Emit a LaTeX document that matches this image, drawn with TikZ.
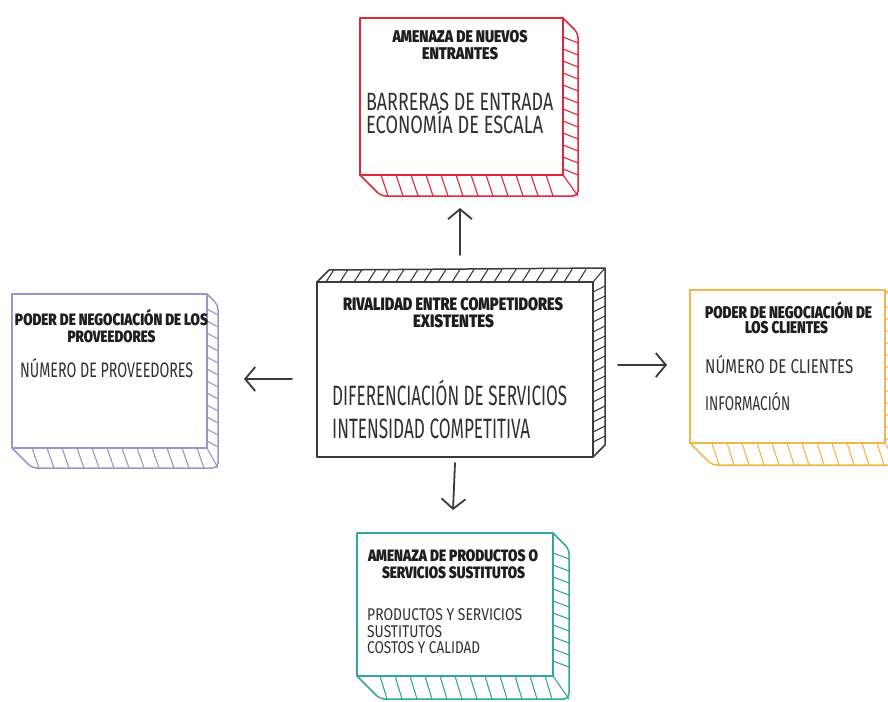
\documentclass[tikz,border=0pt]{standalone}
\usepackage{fontspec}
\setmainfont{Fira Sans}
\IfFontExistsTF{Fira Sans Black}
  {\newfontfamily\headfont{Fira Sans Black}}
  {\newfontfamily\headfont{Fira Sans}[UprightFont=* Bold, FakeBold=1.5]}
\IfFontExistsTF{Fira Sans Book}
  {\newfontfamily\bodyfont{Fira Sans Book}}
  {\newfontfamily\bodyfont{Fira Sans}}
\usetikzlibrary{arrows.meta}

\definecolor{inkdark}{HTML}{3A3A3A}
\definecolor{txtdark}{HTML}{1E1E1E}
\definecolor{txtbody}{HTML}{303030}
\definecolor{boxred}{HTML}{E2263A}
\definecolor{boxpurple}{HTML}{A292CC}
\definecolor{boxorange}{HTML}{F4B548}
\definecolor{boxteal}{HTML}{2FA79E}

% one line of condensed text: target width (pt), font size (pt), text
\newcommand{\fitline}[3]{\resizebox{#1pt}{\height}{\fontsize{#2}{#2}\selectfont #3}}

% sketched box with a hatched edge to the right and below
% #1 colour, #2 x1, #3 y1, #4 x2, #5 y2, #6 right depth, #7 bottom depth
\newcommand{\hatchbox}[7]{%
  \draw[boxline,#1] (#2,#3) rectangle (#4,#5);
  \draw[boxline,#1,rounded corners=5pt] (#4,#3) -- (#4+#6,#3+#6) -- (#4+#6,#5+#7) -- (#2+#7,#5+#7) -- (#2,#5);
  \draw[hatch,#1] (#4,#5) -- (#4+#6,#5+#7);
  \pgfmathtruncatemacro{\nb}{(#4-#2-#7-8)/15}
  \foreach \i in {0,...,\nb}{
    \pgfmathsetmacro{\tx}{#2+#7+\i*15}
    \draw[hatch,#1] (\tx,#5) -- (\tx+7,#5+#7);
  }
  \pgfmathtruncatemacro{\nr}{(#5-#3-#6-8)/12}
  \foreach \i in {0,...,\nr}{
    \pgfmathsetmacro{\ty}{#3+#6+4+\i*12}
    \draw[hatch,#1] (#4,\ty) -- (#4+#6,\ty+6);
  }
}

\tikzset{
  boxline/.style={line width=1.5pt, line join=round, line cap=round},
  hatch/.style={line width=1.1pt, line cap=round},
  txt/.style={inner sep=0pt, text=txtdark},
  head/.style={txt, anchor=base, font=\headfont},
  body/.style={txt, anchor=base west, text=txtbody, font=\bodyfont},
  force/.style={line width=1.8pt, draw=inkdark, line cap=round,
    -{Straight Barb[length=10pt,width=24pt,line width=1.8pt]}}
}

\begin{document}
\begin{tikzpicture}[x=1pt,y=-1pt]
\path[use as bounding box] (0,0) rectangle (888,701);
\clip (0,0) rectangle (888,701);

% the five forces boxes
\hatchbox{boxred}{360}{18}{563}{175}{15}{21}
\hatchbox{boxpurple}{12}{294}{207}{448}{11}{20}
\hatchbox{boxorange}{690}{290}{885}{443}{12}{22}
\hatchbox{boxteal}{357}{533}{553}{676}{16}{23}

% central box, extruded up and to the right
\draw[boxline,inkdark] (317,282) rectangle (593,457);
\draw[boxline,inkdark] (317,282) -- (329,270) -- (605,268) -- (605,445) -- (593,457);
\draw[hatch,inkdark] (605,268) -- (593,282);
\foreach \tx in {326,340,...,590}
  \draw[hatch,inkdark] (\tx,282) -- (\tx+8,269.5);
\foreach \ty in {292,302,...,446}
  \draw[hatch,inkdark] (593,\ty) -- (605,\ty-6);

% top box texts
\node[head] (t1) at (460,42) {\fitline{135}{17}{AMENAZA DE NUEVOS}};
\node[head] (t2) at (460,59.5) {\fitline{76}{17}{ENTRANTES}};
\node[body] (t3) at (366,110) {\fitline{187}{25}{BARRERAS DE ENTRADA}};
\node[body] (t4) at (366,133) {\fitline{177}{25}{ECONOMÍA DE ESCALA}};

% left box texts
\node[head] (l1) at (111.5,325) {\fitline{193}{16.5}{PODER DE NEGOCIACIÓN DE LOS}};
\node[head] (l2) at (111.5,342) {\fitline{88}{16.5}{PROVEEDORES}};
\node[body] (l3) at (20,377) {\fitline{173}{21}{NÚMERO DE PROVEEDORES}};

% central box texts
\node[head] (c1) at (453,310) {\fitline{220}{18}{RIVALIDAD ENTRE COMPETIDORES}};
\node[head] (c2) at (453.5,327) {\fitline{81}{18}{EXISTENTES}};
\node[body] (c3) at (332,405) {\fitline{235}{28}{DIFERENCIACIÓN DE SERVICIOS}};
\node[body] (c4) at (332,438) {\fitline{198}{28}{INTENSIDAD COMPETITIVA}};

% right box texts
\node[head] (r1) at (788.5,318) {\fitline{167}{17}{PODER DE NEGOCIACIÓN DE}};
\node[head] (r2) at (786.5,333.5) {\fitline{83}{17}{LOS CLIENTES}};
\node[body] (r3) at (705,373) {\fitline{148}{20}{NÚMERO DE CLIENTES}};
\node[body] (r4) at (705,410) {\fitline{85}{20}{INFORMACIÓN}};

% bottom box texts
\node[head] (b1) at (453,561) {\fitline{170}{16.5}{AMENAZA DE PRODUCTOS O}};
\node[head] (b2) at (453.5,578) {\fitline{143}{16.5}{SERVICIOS SUSTITUTOS}};
\node[body] (b3) at (367,620) {\fitline{155}{17}{PRODUCTOS Y SERVICIOS}};
\node[body] (b4) at (367,637) {\fitline{75}{17}{SUSTITUTOS}};
\node[body] (b5) at (367,653) {\fitline{113}{17}{COSTOS Y CALIDAD}};

% arrows from the central box towards each force
\coordinate (upS) at (460,255);   \coordinate (upE) at (460,208);
\coordinate (lfS) at (292,379);   \coordinate (lfE) at (244,379);
\coordinate (rtS) at (618,365);   \coordinate (rtE) at (667,365);
\coordinate (dnS) at (455,463);   \coordinate (dnE) at (453,510);
\draw[force] (upS) -- (upE);
\draw[force] (lfS) -- (lfE);
\draw[force] (rtS) -- (rtE);
\draw[force] (dnS) -- (dnE);
\end{tikzpicture}
\end{document}
